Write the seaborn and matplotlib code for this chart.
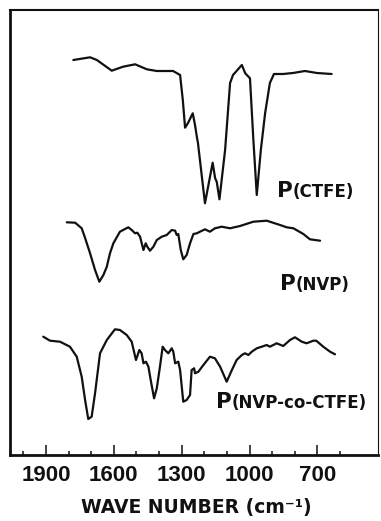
import matplotlib
matplotlib.use("Agg")
import matplotlib.pyplot as plt
import seaborn as sns
import pandas as pd
from matplotlib.ticker import FixedLocator

# ---- data (wavenumber in cm^-1, transmittance in arbitrary offset units) ----
ctfe_wn = [1779, 1705, 1675, 1609, 1559, 1506, 1454, 1410, 1338, 1307, 1295, 1285,
           1272, 1251, 1241, 1233, 1228, 1197, 1163, 1152, 1145, 1133, 1108, 1086,
           1073, 1034, 1019, 998, 983, 968, 950, 931, 910, 892, 852, 808, 755, 702, 637]
ctfe_t = [395.0, 397.7, 395.0, 384.3, 388.3, 390.7, 385.7, 384.0, 384.0, 380.0, 355.0,
          327.3, 332.0, 341.7, 330.0, 318.3, 312.0, 251.7, 292.3, 276.7, 273.3, 255.7,
          305.0, 372.0, 380.0, 390.0, 381.7, 376.7, 315.0, 260.0, 305.0, 342.0, 372.0,
          381.0, 381.0, 382.0, 384.0, 382.0, 381.0]

nvp_wn = [1808, 1771, 1742, 1727, 1705, 1683, 1664, 1646, 1631, 1617, 1602, 1573, 1536,
          1521, 1506, 1496, 1484, 1469, 1459, 1452, 1440, 1425, 1410, 1388, 1366, 1344,
          1329, 1322, 1315, 1304, 1293, 1278, 1263, 1248, 1233, 1219, 1197, 1175, 1153,
          1123, 1086, 1042, 983, 924, 865, 836, 806, 762, 733, 688]
nvp_t = [232.7, 232.3, 226.7, 217.0, 201.7, 185.0, 173.3, 180.0, 188.3, 201.7, 211.7,
         223.3, 227.7, 225.0, 221.7, 222.3, 218.3, 205.0, 211.7, 208.3, 204.3, 208.3,
         215.0, 218.3, 220.0, 225.0, 224.3, 220.0, 221.0, 205.0, 195.7, 200.0, 211.7,
         221.0, 221.7, 223.3, 225.7, 223.3, 226.7, 228.3, 226.7, 229.0, 233.3, 234.3,
         230.0, 227.7, 226.7, 221.0, 215.7, 214.3]

co_wn = [1912, 1882, 1838, 1794, 1764, 1742, 1727, 1713, 1698, 1683, 1661, 1631, 1595,
         1573, 1543, 1521, 1502, 1487, 1477, 1469, 1458, 1447, 1437, 1422, 1410, 1396,
         1384, 1374, 1359, 1344, 1337, 1329, 1315, 1307, 1293, 1278, 1263, 1256, 1245,
         1241, 1226, 1204, 1175, 1153, 1130, 1101, 1078, 1057, 1034, 1020, 1005, 990,
         968, 946, 924, 910, 880, 851, 821, 799, 769, 748, 718, 705, 674, 644, 622]
co_t = [118.3, 114.3, 113.3, 108.3, 98.3, 78.3, 55.0, 36.0, 38.3, 61.7, 101.7, 115.0,
        125.7, 125.0, 120.0, 113.3, 95.0, 105.0, 101.7, 91.7, 93.3, 88.3, 75.0, 56.7,
        66.7, 88.3, 108.3, 105.0, 101.7, 106.7, 103.3, 91.7, 93.3, 85.0, 53.3, 55.0,
        60.0, 85.0, 86.7, 81.7, 83.3, 90.0, 98.3, 96.7, 88.3, 73.3, 85.0, 95.0, 100.0,
        101.7, 100.0, 103.3, 106.7, 108.3, 110.0, 108.3, 111.7, 109.0, 115.0, 117.7,
        113.3, 111.7, 114.3, 114.3, 108.3, 103.3, 100.7]

major_ticks = [1900, 1600, 1300, 1000, 700]
tick_labels = ["1900", "1600", "1300", "1000", "700"]
minor_ticks = [2000, 1800, 1700, 1500, 1400, 1200, 1100, 900, 800, 600]

series_names = ["CTFE", "NVP", "NVP-co-CTFE"]

# ---- style ----
sns.set_style("white")
plt.rcParams["font.family"] = ["DejaVu Sans"]

fig = plt.figure(figsize=(3.81, 5.21), dpi=100)
ax = fig.add_axes([10 / 381, (521 - 455) / 521, (378 - 10) / 381, 445 / 521])

frames = [pd.DataFrame({"wn": ctfe_wn, "T": ctfe_t}),
          pd.DataFrame({"wn": nvp_wn, "T": nvp_t}),
          pd.DataFrame({"wn": co_wn, "T": co_t})]
for df in frames:
    sns.lineplot(data=df, x="wn", y="T", sort=False, estimator=None,
                 color="#111111", lw=1.6, ax=ax)

ax.set_xlim(2059, 432)
ax.set_ylim(0, 445)
ax.set_yticks([])
ax.set_ylabel("")

ax.xaxis.set_major_locator(FixedLocator(major_ticks))
ax.set_xticklabels(tick_labels)
ax.xaxis.set_minor_locator(FixedLocator(minor_ticks))
ax.tick_params(axis="x", which="major", direction="in", length=7.2, width=1.1,
               pad=7, bottom=True, top=False, color="#111111")
ax.tick_params(axis="x", which="minor", direction="in", length=3, width=1.1,
               bottom=True, top=False, color="#111111")
for lab in ax.get_xticklabels():
    lab.set_family(["Liberation Sans", "DejaVu Sans"])
    lab.set_fontweight("bold")
    lab.set_fontsize(16)
    lab.set_color("#111111")

for side, lw in [("left", 2.0), ("bottom", 2.0), ("top", 1.5), ("right", 0.8)]:
    ax.spines[side].set_visible(True)
    ax.spines[side].set_linewidth(lw)
    ax.spines[side].set_color("#111111")

ax.set_xlabel("WAVE NUMBER (cm\u207b\u00b9)", fontsize=13.5, fontweight="bold",
              color="#111111", va="top")
ax.xaxis.set_label_coords(0.505, -0.097)

# series labels: large "P" followed by smaller parenthetical
label_pos = [(878, 258.3), (865, 165.0), (1148, 46.7)]
for name, (x, y) in zip(series_names, label_pos):
    ax.text(x, y, "P", fontsize=15.5, fontweight="bold", ha="left", va="baseline",
            color="#111111")
    ax.annotate("(" + name + ")", xy=(x, y), xytext=(11, 0),
                textcoords="offset points", fontsize=12, fontweight="bold",
                ha="left", va="baseline", color="#111111")

fig.savefig("out.png", dpi=100)
